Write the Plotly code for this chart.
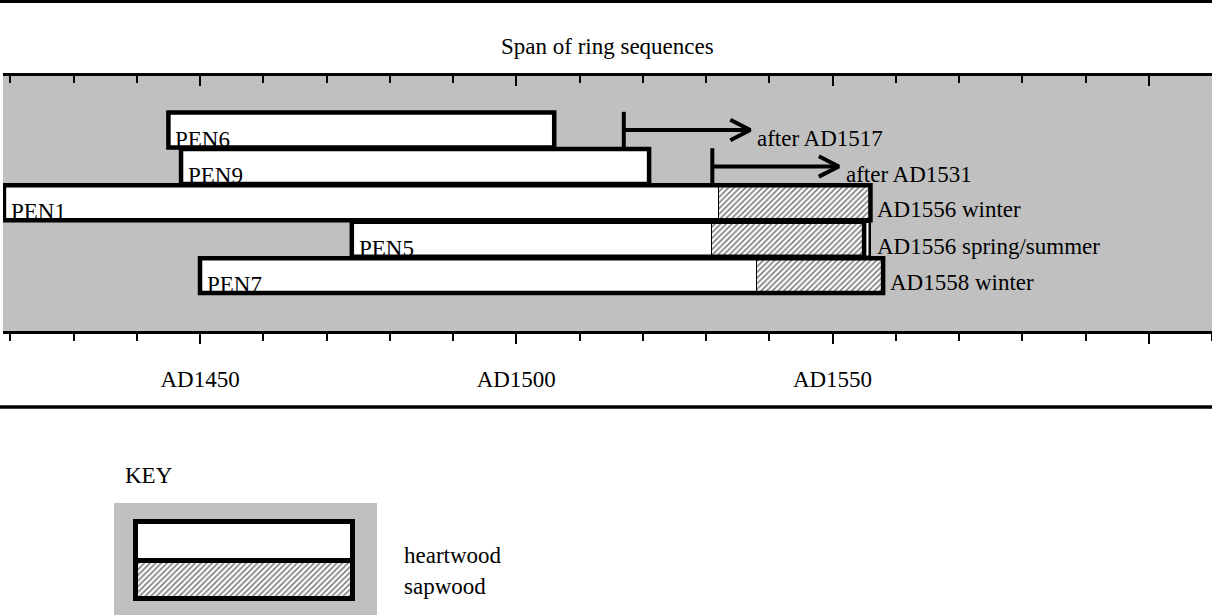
import plotly.graph_objects as go

# ---------------- data ----------------
samples = ["PEN6", "PEN9", "PEN1", "PEN5", "PEN7"]
row_pos = [5, 4, 3, 2, 1]
start_year = [1445, 1447, 1419, 1474, 1450]
heartwood_end = [1506, 1521, 1532, 1531, 1538]
sapwood_end = [None, None, 1556, 1555, 1558]
felling_year = [None, None, 1556, 1556, 1558]
felling_label = ["", "", "AD1556 winter", "AD1556 spring/summer", "AD1558 winter"]

arrow_sample = ["PEN6", "PEN9"]
arrow_from = [1517, 1531]
arrow_to = [1537, 1551]
arrow_label = ["after AD1517", "after AD1531"]

tick_years = [1450, 1500, 1550, 1600]
tick_labels = ["AD1450", "AD1500", "AD1550", ""]
minor_tick_start = 1420
minor_tick_step = 10

key_labels = ["heartwood", "sapwood"]
title_text = "Span of ring sequences"

# ---------------- style ----------------
W, H = 1212, 615
FONT = "Liberation Serif, Times New Roman, serif"
FS = 23
GREY = "#c0c0c0"
BAR_W = 0.96
OUT_W = 4.5
X_RANGE = [1418.85, 1610.0]
Y_RANGE = [-0.522, 6.484]
HEAD_LEN = 3.16   # arrow head length (years)
HEAD_HALF = 0.28  # arrow head half height (row units)
HATCH = dict(shape="/", size=4, solidity=0.42, fgcolor="black", bgcolor="white")


def px(x):
    return x / W


def py(y):
    return 1 - y / H


row_of = dict(zip(samples, row_pos))
font = dict(family=FONT, size=FS, color="black")

fig = go.Figure()

# heartwood
fig.add_trace(go.Bar(
    orientation="h", y=row_pos,
    x=[h - s for s, h in zip(start_year, heartwood_end)], base=start_year,
    width=BAR_W, marker=dict(color="white", line=dict(width=0)),
    hoverinfo="skip", xaxis="x", yaxis="y"))

# sapwood
sw_idx = [i for i, v in enumerate(sapwood_end) if v is not None]
fig.add_trace(go.Bar(
    orientation="h", y=[row_pos[i] for i in sw_idx],
    x=[sapwood_end[i] - heartwood_end[i] for i in sw_idx],
    base=[heartwood_end[i] for i in sw_idx],
    width=BAR_W,
    marker=dict(color="white", line=dict(color="black", width=1), pattern=HATCH),
    hoverinfo="skip", xaxis="x", yaxis="y"))

# unmeasured final (partial) ring
st_idx = [i for i in sw_idx if felling_year[i] > sapwood_end[i]]
fig.add_trace(go.Bar(
    orientation="h", y=[row_pos[i] for i in st_idx],
    x=[felling_year[i] - sapwood_end[i] for i in st_idx],
    base=[sapwood_end[i] for i in st_idx],
    width=BAR_W, marker=dict(color="white", line=dict(color="black", width=2.5)),
    hoverinfo="skip", xaxis="x", yaxis="y"))

shapes = []
annotations = []

# outlines
for i, name in enumerate(samples):
    x1 = sapwood_end[i] if sapwood_end[i] is not None else heartwood_end[i]
    shapes.append(dict(type="rect", xref="x", yref="y",
                       x0=start_year[i], x1=x1,
                       y0=row_pos[i] - BAR_W / 2, y1=row_pos[i] + BAR_W / 2,
                       line=dict(color="black", width=OUT_W),
                       fillcolor="rgba(0,0,0,0)", layer="above"))
    annotations.append(dict(x=start_year[i], y=row_pos[i], xref="x", yref="y",
                            text=name, showarrow=False, xanchor="left",
                            yanchor="middle", xshift=5, yshift=-9, font=font))
    if felling_label[i]:
        annotations.append(dict(x=felling_year[i], y=row_pos[i], xref="x", yref="y",
                                text=felling_label[i], showarrow=False,
                                xanchor="left", yanchor="middle",
                                xshift=5, yshift=-7, font=font))

# arrows (terminus post quem)
ax_x, ax_y = [], []
for name, f, t, lab in zip(arrow_sample, arrow_from, arrow_to, arrow_label):
    r = row_of[name]
    ax_x += [f, f, None, f, t, None, t - HEAD_LEN, t, t - HEAD_LEN, None]
    ax_y += [r - 0.5, r + 0.5, None, r, r, None, r + HEAD_HALF, r, r - HEAD_HALF, None]
    annotations.append(dict(x=t, y=r, xref="x", yref="y", text=lab,
                            showarrow=False, xanchor="left", yanchor="middle",
                            xshift=5, yshift=-8, font=font))
fig.add_trace(go.Scatter(x=ax_x, y=ax_y, mode="lines",
                         line=dict(color="black", width=4),
                         hoverinfo="skip", xaxis="x", yaxis="y"))

# dummy trace to realise top axis
fig.add_trace(go.Scatter(x=[tick_years[0]], y=[row_pos[0]], mode="markers",
                         marker=dict(opacity=0), hoverinfo="skip",
                         xaxis="x2", yaxis="y"))

# key swatches
fig.add_trace(go.Bar(orientation="h", y=[1.5], x=[1], base=[0], width=1,
                     marker=dict(color="white", line=dict(color="black", width=5)),
                     hoverinfo="skip", xaxis="x3", yaxis="y3"))
fig.add_trace(go.Bar(orientation="h", y=[0.5], x=[1], base=[0], width=1,
                     marker=dict(color="white", line=dict(color="black", width=5),
                                 pattern=HATCH),
                     hoverinfo="skip", xaxis="x3", yaxis="y3"))

# rules
shapes.append(dict(type="line", xref="paper", yref="paper", x0=0, x1=1,
                   y0=py(1.5), y1=py(1.5), line=dict(color="black", width=3)))
shapes.append(dict(type="line", xref="paper", yref="paper", x0=0, x1=1,
                   y0=py(407), y1=py(407), line=dict(color="black", width=3.5)))

# text
annotations.append(dict(x=px(607), y=py(47), xref="paper", yref="paper",
                        text=title_text, showarrow=False, xanchor="center",
                        yanchor="middle", font=font))
annotations.append(dict(x=px(149), y=py(475), xref="paper", yref="paper",
                        text="KEY", showarrow=False, xanchor="center",
                        yanchor="middle", font=font))
annotations.append(dict(x=px(402), y=py(555), xref="paper", yref="paper",
                        text=key_labels[0], showarrow=False, xanchor="left",
                        yanchor="middle", font=font))
annotations.append(dict(x=px(402), y=py(586), xref="paper", yref="paper",
                        text=key_labels[1], showarrow=False, xanchor="left",
                        yanchor="middle", font=font))

axis_common = dict(
    range=X_RANGE, showgrid=False, zeroline=False, showline=True,
    linecolor="black", linewidth=3, tickmode="array", tickvals=tick_years,
    ticklen=10, tickwidth=2, tickcolor="black", fixedrange=True,
)

fig.update_layout(
    width=W, height=H, autosize=False,
    margin=dict(l=0, r=0, t=0, b=0, pad=0),
    paper_bgcolor="white", plot_bgcolor=GREY,
    showlegend=False, barmode="overlay", bargap=0,
    font=font,
    xaxis=dict(domain=[px(3), 1], anchor="y", side="bottom", ticks="outside",
               ticktext=tick_labels, tickfont=font, ticklabelstandoff=15,
               minor=dict(tickmode="linear", tick0=minor_tick_start,
                          dtick=minor_tick_step, ticks="outside", ticklen=7,
                          tickwidth=2, tickcolor="black", showgrid=False),
               **axis_common),
    xaxis2=dict(overlaying="x", anchor="y", side="top", ticks="inside",
                showticklabels=False,
                minor=dict(tickmode="linear", tick0=minor_tick_start,
                           dtick=minor_tick_step, ticks="inside", ticklen=7,
                           tickwidth=2, tickcolor="black", showgrid=False),
                **axis_common),
    yaxis=dict(domain=[py(331), py(76)], range=Y_RANGE, visible=False,
               fixedrange=True),
    xaxis3=dict(domain=[px(114), px(377)], range=[-0.1014, 1.1106],
                anchor="y3", visible=False, fixedrange=True),
    yaxis3=dict(domain=[0, py(503)], range=[-0.4156, 2.4935],
                anchor="x3", visible=False, fixedrange=True),
    shapes=shapes,
    annotations=annotations,
)

fig.write_html("out.html", config={"displayModeBar": False},
               post_script="document.body.style.margin='0';")
